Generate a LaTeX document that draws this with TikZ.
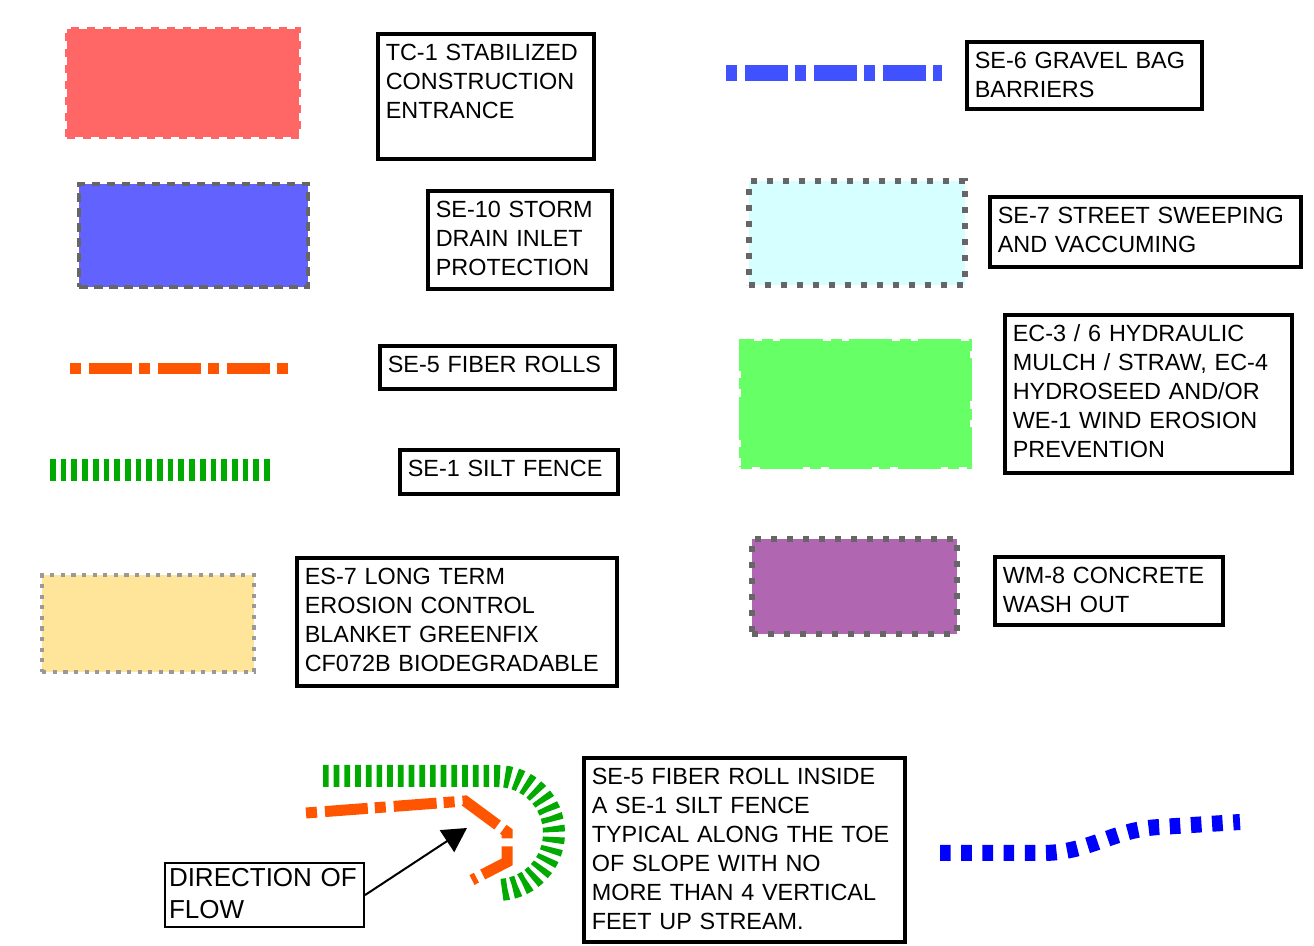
\documentclass[tikz,border=0pt]{standalone}
\usepackage{fontspec}
\setmainfont{Liberation Sans}
\usepackage{xcolor}
\usetikzlibrary{arrows.meta, positioning}

\definecolor{tcred}{HTML}{FF6666}
\definecolor{inletblue}{HTML}{6262FF}
\definecolor{rollorange}{HTML}{FF5500}
\definecolor{fencegreen}{HTML}{00AA00}
\definecolor{blanketyellow}{HTML}{FFE599}
\definecolor{bagblue}{HTML}{4052FF}
\definecolor{sweepcyan}{HTML}{D6FFFF}
\definecolor{mulchgreen}{HTML}{66FF66}
\definecolor{washpurple}{HTML}{B066B0}
\definecolor{edgegray}{HTML}{666666}
\definecolor{lightgray}{HTML}{999999}

\begin{document}
\begin{tikzpicture}[
    x=0.5pt, y=-0.5pt,
    >={Triangle[length=12pt, width=13pt]},
    lblbox/.style={draw, line width=1.8pt, anchor=north west, align=left,
        inner xsep=4pt, inner ysep=5pt, font=\fontsize{11.7pt}{14.5pt}\selectfont},
    swatch/.style={anchor=north west, inner sep=0pt},
    graydash/.style={draw=edgegray, line width=2.1pt, dash pattern=on 4.3pt off 3.2pt},
    graydots/.style={draw=edgegray, line width=3pt, dash pattern=on 3pt off 5pt},
    rollpattern/.style={dash pattern=on 5.5pt off 4pt on 21.5pt off 3.5pt},
    fiberroll/.style={draw=rollorange, line width=5.5pt, rollpattern},
    siltfence/.style={draw=fencegreen, line width=11pt, dash pattern=on 2.85pt off 2.5pt},
    gravelbag/.style={draw=bagblue, line width=7.75pt, rollpattern},
    bagdots/.style={draw=blue, line width=8pt, dash pattern=on 5.3pt off 5.3pt}
]
\useasboundingbox (0,0) rectangle (1314,946);

% --- Left column ---
\node[swatch, fill=tcred, draw=tcred, line width=2pt, dash pattern=on 4pt off 4pt,
      minimum width=116pt, minimum height=54pt] (tc1) at (65,27) {};
\node[lblbox, text width=100pt, text depth=44.5pt] (tc1lbl) at (376,32)
    {TC-1 STABILIZED\\CONSTRUCTION\\ENTRANCE};

\node[swatch, fill=inletblue, graydash,
      minimum width=114.5pt, minimum height=51.5pt] (se10) at (77,182) {};
\node[lblbox, text width=84pt, text depth=31pt] (se10lbl) at (426,189)
    {SE-10 STORM\\DRAIN INLET\\PROTECTION};

\draw[fiberroll] (70,369) -- (289,369);
\node[lblbox, text width=109.5pt, text depth=3.5pt] (se5lbl) at (378,344)
    {SE-5 FIBER ROLLS};

\draw[siltfence] (50,470) -- (270,470);
\node[lblbox, text width=101pt, text depth=4pt] (se1lbl) at (398,448)
    {SE-1 SILT FENCE};

\node[swatch, fill=blanketyellow, draw=lightgray, line width=2.1pt, dash pattern=on 2.1pt off 3.2pt,
      minimum width=106pt, minimum height=48.5pt] (es7) at (40,573) {};
\node[lblbox, text width=152pt, text depth=46pt] (es7lbl) at (295,556)
    {ES-7 LONG TERM\\EROSION CONTROL\\BLANKET GREENFIX\\CF072B BIODEGRADABLE};

% --- Right column ---
\draw[gravelbag] (726,73) -- (942,73);
\node[lblbox, text width=109.5pt, text depth=15.5pt] (se6lbl) at (965,40)
    {SE-6 GRAVEL BAG\\BARRIERS};

\node[swatch, fill=sweepcyan, graydots,
      minimum width=108pt, minimum height=52pt] (se7) at (746,178) {};
\node[lblbox, text width=147.5pt, text depth=17pt] (se7lbl) at (988,195)
    {SE-7 STREET SWEEPING\\AND VACCUMING};

\node[swatch, fill=mulchgreen, draw=mulchgreen, line width=2pt, rollpattern,
      minimum width=114.5pt, minimum height=63pt] (ec3) at (739,339) {};
\node[lblbox, text width=135.5pt, text depth=60.5pt] (ec3lbl) at (1003,313)
    {EC-3 / 6 HYDRAULIC\\MULCH / STRAW, EC-4\\HYDROSEED AND/OR\\WE-1 WIND EROSION\\PREVENTION};

\node[swatch, fill=washpurple, graydots,
      minimum width=102.5pt, minimum height=47.5pt] (wm8) at (749,536) {};
\node[lblbox, text width=106pt, text depth=16pt] (wm8lbl) at (993,555)
    {WM-8 CONCRETE\\WASH OUT};

% --- Typical fiber roll inside silt fence ---
\draw[siltfence] (323,776) -- (497,776) arc[start angle=90, end angle=-85, radius=28.5pt];
\draw[fiberroll, line join=miter] (306,813) -- (465,801) -- (507,832) -- (507,862) -- (472,880);

\node[lblbox, line width=1pt, inner xsep=2pt, inner ysep=2.5pt, text width=95.5pt, text depth=18pt,
      font=\fontsize{13pt}{16pt}\selectfont] (dirlbl) at (164,862)
    {DIRECTION OF\\FLOW};
\coordinate (flowtip) at (467,828);
\draw[->, line width=1pt] (dirlbl.east) -- (flowtip);

\node[lblbox, text width=152.5pt, text depth=74pt] (typlbl) at (582,756)
    {SE-5 FIBER ROLL INSIDE\\A SE-1 SILT FENCE\\TYPICAL ALONG THE TOE\\OF SLOPE WITH NO\\MORE THAN 4 VERTICAL\\FEET UP STREAM.};

\draw[bagdots] (940,853) -- (1045,853) .. controls (1090,852) and (1115,829) .. (1160,827) -- (1240,822);

\end{tikzpicture}
\end{document}
